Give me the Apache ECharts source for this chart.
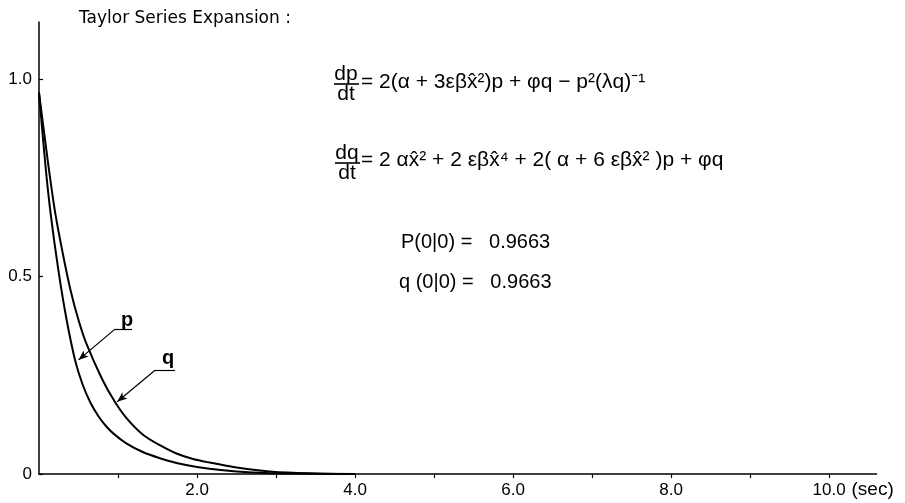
<!DOCTYPE html>
<html>
<head>
<meta charset="utf-8">
<script src="https://cdn.jsdelivr.net/npm/echarts@6/dist/echarts.min.js"></script>
<style>html,body{margin:0;padding:0;background:#fff}#c{width:905px;height:503px}</style>
</head>
<body>
<div id="c"></div>
<script>
// ---- data ----
var pTime = [0, 0.08, 0.15, 0.25, 0.35, 0.456, 0.55, 0.65, 0.75, 0.85, 0.95, 1.11, 1.32, 1.53, 1.74, 2.0, 2.3, 2.7, 3.2, 4.0];
var pValue = [0.966, 0.785, 0.655, 0.51, 0.39, 0.289, 0.228, 0.181, 0.147, 0.121, 0.101, 0.077, 0.055, 0.040, 0.028, 0.018, 0.010, 0.004, 0.0012, 0];
var qTime = [0, 0.1, 0.2, 0.3, 0.4, 0.5, 0.6, 0.8, 0.96, 1.11, 1.32, 1.53, 1.74, 1.95, 2.16, 2.46, 2.95, 3.5, 4.0];
var qValue = [0.966, 0.81, 0.668, 0.56, 0.465, 0.39, 0.33, 0.24, 0.183, 0.141, 0.099, 0.073, 0.052, 0.038, 0.029, 0.018, 0.006, 0.0015, 0];
var xTicks = [1, 2, 3, 4, 5, 6, 7, 8, 9, 10];
var xLabels = [2, 4, 6, 8, 10];
var yTicks = [0, 0.5, 1.0];
var yLabelText = {'0': '0', '0.5': '0.5', '1': '1.0'};
var titleText = 'Taylor Series Expansion :';
var initText = ['P(0|0) =   0.9663', 'q (0|0) =   0.9663'];

function pairs(t, v) { return t.map(function (x, i) { return [x, v[i]]; }); }

var INK = '#000';
var FAM = 'Liberation Sans';

function txt(x, y, s, size, align, weight) {
  return { type: 'text', x: x, y: y, style: {
    text: s, fill: INK, fontFamily: FAM, fontSize: size, fontWeight: weight || 'normal',
    align: align || 'left', verticalAlign: 'middle' } };
}

var chart = echarts.init(document.getElementById('c'));
chart.setOption({
  animation: false,
  backgroundColor: '#fff',
  title: {
    text: titleText, left: 79, top: 10, padding: 0,
    textStyle: { fontFamily: 'DejaVu Sans', fontSize: 17, fontWeight: 'normal', color: INK }
  },
  grid: { left: 39, top: 22, right: 28.5, bottom: 29, containLabel: false },
  xAxis: {
    type: 'value', min: 0, max: 10.6,
    name: '(sec)', nameLocation: 'end', nameGap: -28,
    nameTextStyle: { fontFamily: FAM, fontSize: 19, color: INK, verticalAlign: 'top', align: 'left', padding: [6, 0, 0, 0] },
    axisLine: { lineStyle: { color: INK, width: 1.5 } },
    axisTick: { show: true, customValues: xTicks, length: 4, lineStyle: { color: INK, width: 1.2 } },
    axisLabel: {
      customValues: xLabels, margin: 8, color: INK, fontFamily: FAM, fontSize: 17,
      formatter: function (v) { return v.toFixed(1); }
    },
    splitLine: { show: false }
  },
  yAxis: {
    type: 'value', min: 0, max: 1.145,
    axisLine: { show: true, lineStyle: { color: INK, width: 1.5 } },
    axisTick: { show: true, inside: true, customValues: yTicks, length: 4, lineStyle: { color: INK, width: 1.2 } },
    axisLabel: {
      customValues: yTicks, margin: 7, color: INK, fontFamily: FAM, fontSize: 17,
      formatter: function (v) { return yLabelText[String(v)]; }
    },
    splitLine: { show: false }
  },
  series: [
    {
      name: 'p', type: 'line', data: pairs(pTime, pValue), smooth: 0.3,
      showSymbol: false, lineStyle: { color: INK, width: 2 },
      markLine: {
        silent: true, symbol: ['none', 'arrow'], symbolSize: [6, 10],
        lineStyle: { color: INK, width: 1.2, type: 'solid' },
        label: { show: false },
        emphasis: { disabled: true },
        data: [
          [{ coord: [0.962, 0.367] }, { coord: [0.50, 0.289] }],
          [{ coord: [0.962, 0.367], symbol: 'none' }, { coord: [1.177, 0.367], symbol: 'none' }]
        ]
      }
    },
    {
      name: 'q', type: 'line', data: pairs(qTime, qValue), smooth: 0.3,
      showSymbol: false, lineStyle: { color: INK, width: 2 },
      markLine: {
        silent: true, symbol: ['none', 'arrow'], symbolSize: [6, 10],
        lineStyle: { color: INK, width: 1.2, type: 'solid' },
        label: { show: false },
        emphasis: { disabled: true },
        data: [
          [{ coord: [1.468, 0.263] }, { coord: [0.99, 0.183] }],
          [{ coord: [1.468, 0.263], symbol: 'none' }, { coord: [1.722, 0.263], symbol: 'none' }]
        ]
      }
    }
  ],
  graphic: [
    txt(127, 320, 'p', 20, 'center', 'bold'),
    txt(168, 358, 'q', 20, 'center', 'bold'),
    // equation 1
    txt(346, 74, 'dp', 21, 'center'),
    { type: 'line', shape: { x1: 334, y1: 84, x2: 359, y2: 84 }, style: { stroke: INK, lineWidth: 1.6 } },
    txt(346, 94, 'dt', 21, 'center'),
    txt(361, 82, '= 2(\u03b1 + 3\u03b5\u03b2x\u0302\u00b2)p + \u03c6q \u2212 p\u00b2(\u03bbq)\u207b\u00b9', 21),
    // equation 2
    txt(347, 153, 'dq', 21, 'center'),
    { type: 'line', shape: { x1: 335, y1: 163, x2: 360, y2: 163 }, style: { stroke: INK, lineWidth: 1.6 } },
    txt(347, 173, 'dt', 21, 'center'),
    txt(361, 160, '= 2 \u03b1x\u0302\u00b2 + 2 \u03b5\u03b2x\u0302\u2074 + 2( \u03b1 + 6 \u03b5\u03b2x\u0302\u00b2 )p + \u03c6q', 21),
    // initial values
    txt(401, 242, initText[0], 20),
    txt(399, 282, initText[1], 20)
  ]
});
</script>
</body>
</html>
